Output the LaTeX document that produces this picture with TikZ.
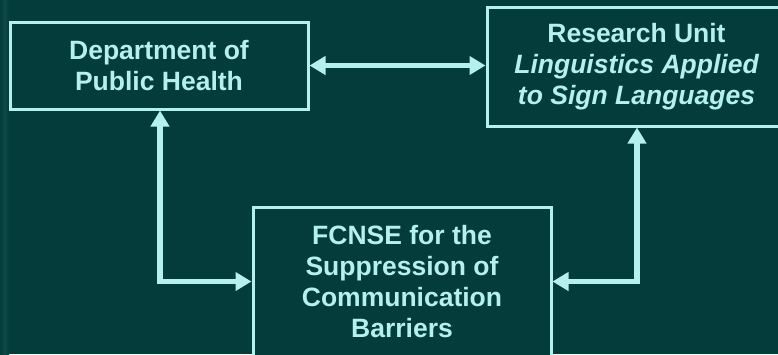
\documentclass[tikz,border=0pt]{standalone}
\usepackage{fontspec}
\setmainfont{Liberation Sans}
\usetikzlibrary{arrows.meta}
\definecolor{bg}{RGB}{3,60,58}
\definecolor{strip}{RGB}{14,74,69}
\definecolor{fg}{RGB}{180,240,236}
\tikzset{
  box/.style={draw=fg, line width=3pt, fill=bg, text=fg, align=center,
    font=\fontsize{26.5}{31}\selectfont\bfseries, inner sep=0pt},
  link/.style={draw=fg, line width=5.5pt, line join=miter,
    {Triangle[length=16pt,width=18pt]}-{Triangle[length=16pt,width=18pt]}}
}
\begin{document}
\begin{tikzpicture}[x=1pt,y=-1pt]
\useasboundingbox (0,0) rectangle (778,354);
\clip (0,0) rectangle (778,354);
\fill[bg] (0,0) rectangle (778,354);
\shade[left color=bg, right color=bg, middle color=strip, shading angle=90] (0,0) rectangle (9,354);
\node[box, minimum width=298pt, minimum height=87pt] (ph) at (159,65.5)
  {Department of\\Public Health};
\node[box, minimum width=299pt, minimum height=119pt] (ru) at (636.5,66.5)
  {Research Unit\\\itshape Linguistics Applied\\\itshape to Sign Languages};
\node[box, minimum width=298pt, minimum height=149pt] (fc) at (402,281.5)
  {FCNSE for the\\Suppression of\\Communication\\Barriers};
\coordinate (lc) at (160,282);
\coordinate (rc) at (637,282);
\path[link] (ph.east) -- (ph.east -| ru.west);
\path[link] (ph.south -| lc) |- (fc.west);
\path[link] (ru.south -| rc) |- (fc.east);
\end{tikzpicture}
\end{document}
